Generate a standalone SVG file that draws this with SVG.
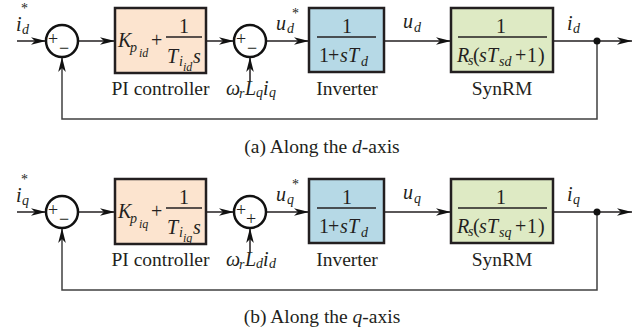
<svg xmlns="http://www.w3.org/2000/svg" width="643" height="327" viewBox="0 0 643 327">
<style>
.t{font-family:"Liberation Serif","Times New Roman",serif;fill:#231f20}
.m{font-style:italic}
.l{font-size:19.5px}
.b{font-size:20px}
.s{font-size:14px}
.ss{font-size:12px}
.box{stroke:#231f20;stroke-width:2.5}
.ln{stroke:#231f20;stroke-width:1.5;fill:none}
.fb{stroke:#404040;stroke-width:1.5;fill:none}
.sum{fill:#fff;stroke:#111;stroke-width:2.5}
.fr{stroke:#231f20;stroke-width:1.3}
</style>
<defs>
<marker id="ah" markerUnits="userSpaceOnUse" markerWidth="16" markerHeight="9" refX="15" refY="4.5" orient="auto" overflow="visible">
<path d="M0,0.7 L15,4.5 L0,8.3 L4,4.5 Z" fill="#111"/>
</marker>
</defs>

<!-- ===== (a) d-axis ===== -->
<g id="d-axis">
<g id="connectors-d">
<line class="ln" x1="17" y1="41" x2="46" y2="41" marker-end="url(#ah)"/>
<line class="ln" x1="78" y1="41" x2="115" y2="41" marker-end="url(#ah)"/>
<line class="ln" x1="206" y1="41" x2="234" y2="41" marker-end="url(#ah)"/>
<line class="ln" x1="266" y1="41" x2="309" y2="41" marker-end="url(#ah)"/>
<line class="ln" x1="384" y1="41" x2="451" y2="41" marker-end="url(#ah)"/>
<line class="ln" x1="553" y1="41" x2="632" y2="41" marker-end="url(#ah)"/>
<polyline class="fb" points="597,41 597,119 62,119 62,57" marker-end="url(#ah)"/>
<line class="ln" x1="250" y1="81" x2="250" y2="57" marker-end="url(#ah)"/>
<circle cx="597" cy="41" r="3.5" fill="#111"/>
</g>
<g id="in-d">
<text class="t m b" x="16" y="31">i</text><text class="t m s" x="22" y="34">d</text><text class="t s" x="21" y="13">*</text>
</g>
<g id="sum1-d">
<circle class="sum" cx="62" cy="41" r="16"/>
<text class="t" font-size="18" x="53" y="45" text-anchor="middle">+</text>
<text class="t" font-size="18" x="64" y="54" text-anchor="middle">−</text>
</g>
<g id="pi-d">
<rect class="box" x="115" y="8" width="91" height="65" fill="#fce4cf"/>
<text class="t m b" x="118" y="47">K</text><text class="t m s" x="130" y="52">p</text><text class="t m ss" x="139" y="57">id</text>
<text class="t b" x="151" y="47">+</text>
<text class="t b" x="184" y="33" text-anchor="middle">1</text>
<line class="fr" x1="166" y1="37" x2="202" y2="37"/>
<text class="t m b" x="167" y="63">T</text><text class="t m s" x="179" y="66">i</text><text class="t m ss" x="183" y="71">id</text><text class="t m b" x="193" y="63">s</text>
<text class="t l" x="160.5" y="95" text-anchor="middle">PI controller</text>
</g>
<g id="sum2-d">
<circle class="sum" cx="250" cy="41" r="16"/>
<text class="t" font-size="18" x="241" y="45" text-anchor="middle">+</text>
<text class="t" font-size="18" x="252" y="54" text-anchor="middle">−</text>
<text class="t m b" x="226" y="95">ω</text><text class="t m s" x="239" y="98">r</text><text class="t m b" x="245" y="95">L</text><text class="t m s" x="256" y="97">q</text><text class="t m b" x="263" y="95">i</text><text class="t m s" x="269" y="97">q</text>
<text class="t m b" x="276" y="30">u</text><text class="t m s" x="287" y="33">d</text><text class="t s" x="292" y="18">*</text>
</g>
<g id="inv-d">
<rect class="box" x="309" y="8" width="75" height="64" fill="#b6d9e6"/>
<text class="t b" x="347" y="33" text-anchor="middle">1</text>
<line class="fr" x1="317" y1="37" x2="376" y2="37"/>
<text class="t b" x="319" y="62">1</text><text class="t b" x="328" y="62">+</text><text class="t m b" x="340" y="62">s</text><text class="t m b" x="348" y="62">T</text><text class="t m s" x="361" y="66">d</text>
<text class="t l" x="347" y="95" text-anchor="middle">Inverter</text>
<text class="t m b" x="403" y="28">u</text><text class="t m s" x="414" y="32">d</text>
</g>
<g id="syn-d">
<rect class="box" x="451" y="8" width="102" height="64" fill="#deeac4"/>
<text class="t b" x="501" y="33" text-anchor="middle">1</text>
<line class="fr" x1="458" y1="37" x2="547" y2="37"/>
<text class="t m b" x="457" y="62">R</text><text class="t m s" x="468" y="65">s</text><text class="t b" x="473" y="62">(</text><text class="t m b" x="479" y="62">s</text><text class="t m b" x="487" y="62">T</text><text class="t m s" x="499" y="66">sd</text><text class="t b" x="515" y="62">+</text><text class="t b" x="527" y="62">1</text><text class="t b" x="538" y="62">)</text>
<text class="t l" x="502" y="95" text-anchor="middle">SynRM</text>
<text class="t m b" x="567" y="30">i</text><text class="t m s" x="573" y="33">d</text>
</g>
<text class="t l" x="322" y="153" text-anchor="middle">(a) Along the <tspan font-style="italic">d</tspan>-axis</text>
</g>

<!-- ===== (b) q-axis ===== -->
<g id="q-axis" transform="translate(0,171)">
<g id="connectors-q">
<line class="ln" x1="17" y1="41" x2="46" y2="41" marker-end="url(#ah)"/>
<line class="ln" x1="78" y1="41" x2="115" y2="41" marker-end="url(#ah)"/>
<line class="ln" x1="206" y1="41" x2="234" y2="41" marker-end="url(#ah)"/>
<line class="ln" x1="266" y1="41" x2="309" y2="41" marker-end="url(#ah)"/>
<line class="ln" x1="384" y1="41" x2="451" y2="41" marker-end="url(#ah)"/>
<line class="ln" x1="553" y1="41" x2="632" y2="41" marker-end="url(#ah)"/>
<polyline class="fb" points="597,41 597,119 62,119 62,57" marker-end="url(#ah)"/>
<line class="ln" x1="250" y1="81" x2="250" y2="57" marker-end="url(#ah)"/>
<circle cx="597" cy="41" r="3.5" fill="#111"/>
</g>
<g id="in-q">
<text class="t m b" x="16" y="31">i</text><text class="t m s" x="22" y="34">q</text><text class="t s" x="21" y="13">*</text>
</g>
<g id="sum1-q">
<circle class="sum" cx="62" cy="41" r="16"/>
<text class="t" font-size="18" x="53" y="45" text-anchor="middle">+</text>
<text class="t" font-size="18" x="64" y="54" text-anchor="middle">−</text>
</g>
<g id="pi-q">
<rect class="box" x="115" y="8" width="91" height="65" fill="#fce4cf"/>
<text class="t m b" x="118" y="47">K</text><text class="t m s" x="130" y="52">p</text><text class="t m ss" x="139" y="57">iq</text>
<text class="t b" x="151" y="47">+</text>
<text class="t b" x="184" y="33" text-anchor="middle">1</text>
<line class="fr" x1="166" y1="37" x2="202" y2="37"/>
<text class="t m b" x="167" y="63">T</text><text class="t m s" x="179" y="66">i</text><text class="t m ss" x="183" y="71">iq</text><text class="t m b" x="193" y="63">s</text>
<text class="t l" x="160.5" y="95" text-anchor="middle">PI controller</text>
</g>
<g id="sum2-q">
<circle class="sum" cx="250" cy="41" r="16"/>
<text class="t" font-size="18" x="241" y="45" text-anchor="middle">+</text>
<text class="t" font-size="18" x="251" y="54" text-anchor="middle">+</text>
<text class="t m b" x="226" y="95">ω</text><text class="t m s" x="239" y="98">r</text><text class="t m b" x="245" y="95">L</text><text class="t m s" x="256" y="97">d</text><text class="t m b" x="263" y="95">i</text><text class="t m s" x="269" y="97">d</text>
<text class="t m b" x="276" y="30">u</text><text class="t m s" x="287" y="33">q</text><text class="t s" x="292" y="18">*</text>
</g>
<g id="inv-q">
<rect class="box" x="309" y="8" width="75" height="64" fill="#b6d9e6"/>
<text class="t b" x="347" y="33" text-anchor="middle">1</text>
<line class="fr" x1="317" y1="37" x2="376" y2="37"/>
<text class="t b" x="319" y="62">1</text><text class="t b" x="328" y="62">+</text><text class="t m b" x="340" y="62">s</text><text class="t m b" x="348" y="62">T</text><text class="t m s" x="361" y="66">d</text>
<text class="t l" x="347" y="95" text-anchor="middle">Inverter</text>
<text class="t m b" x="403" y="28">u</text><text class="t m s" x="414" y="32">q</text>
</g>
<g id="syn-q">
<rect class="box" x="451" y="8" width="102" height="64" fill="#deeac4"/>
<text class="t b" x="501" y="33" text-anchor="middle">1</text>
<line class="fr" x1="458" y1="37" x2="547" y2="37"/>
<text class="t m b" x="457" y="62">R</text><text class="t m s" x="468" y="65">s</text><text class="t b" x="473" y="62">(</text><text class="t m b" x="479" y="62">s</text><text class="t m b" x="487" y="62">T</text><text class="t m s" x="499" y="66">sq</text><text class="t b" x="515" y="62">+</text><text class="t b" x="527" y="62">1</text><text class="t b" x="538" y="62">)</text>
<text class="t l" x="502" y="95" text-anchor="middle">SynRM</text>
<text class="t m b" x="567" y="30">i</text><text class="t m s" x="573" y="33">q</text>
</g>
<text class="t l" x="322" y="152" text-anchor="middle">(b) Along the <tspan font-style="italic">q</tspan>-axis</text>
</g>
</svg>
